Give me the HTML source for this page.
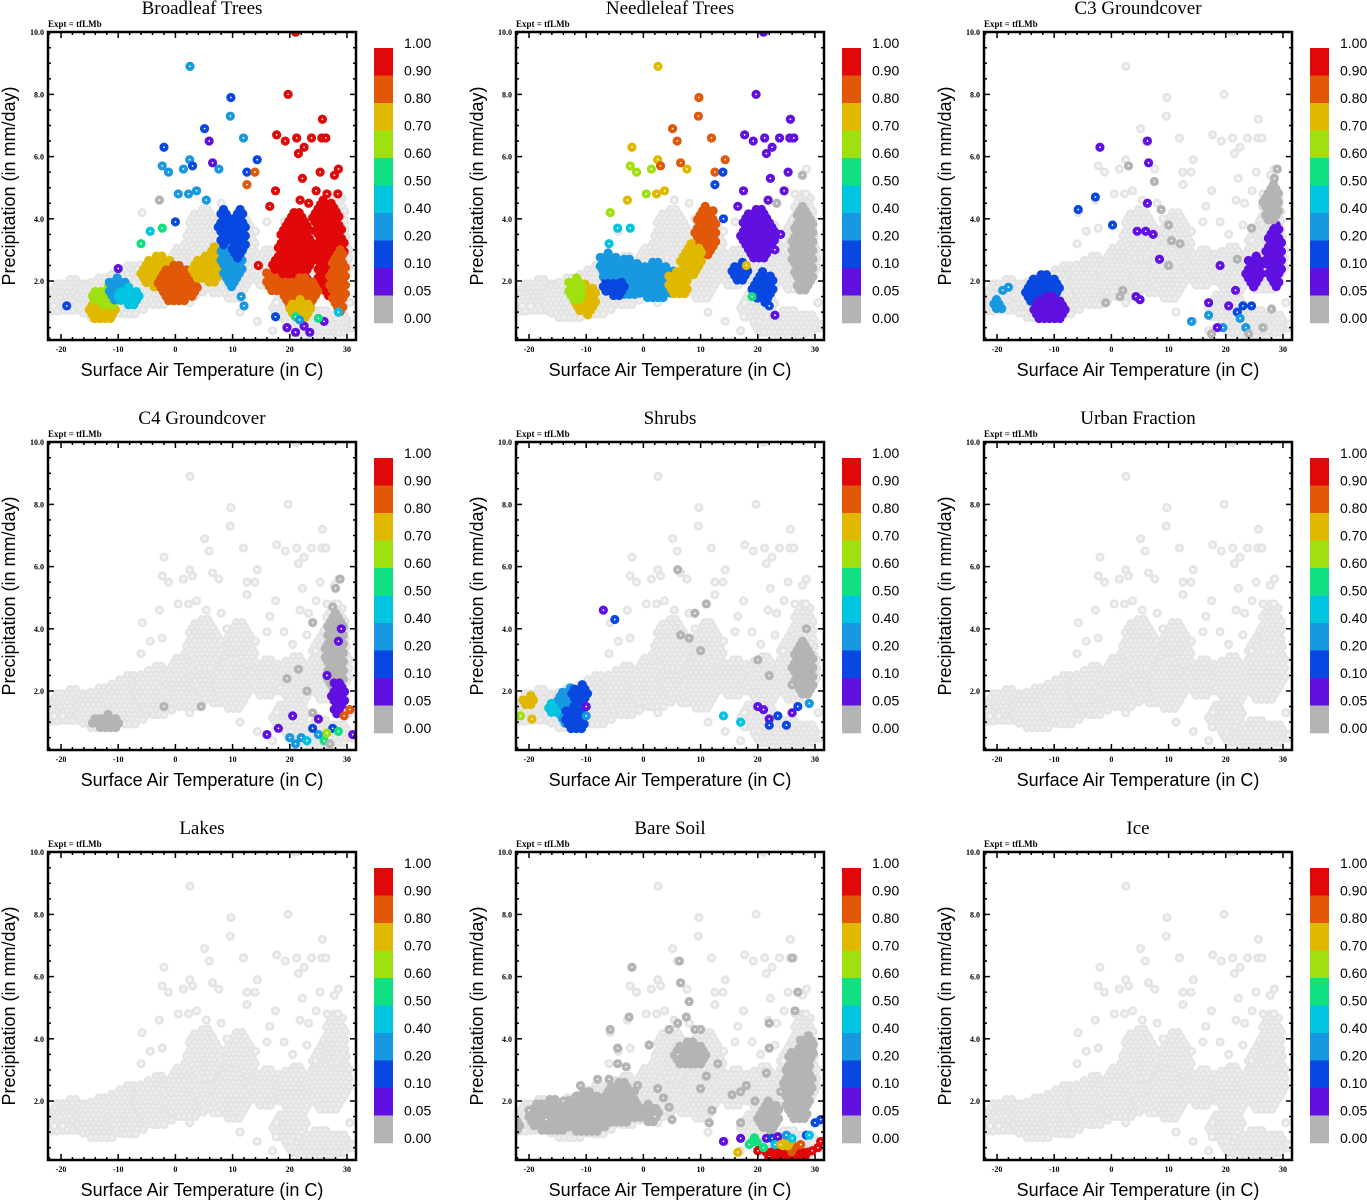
<!DOCTYPE html>
<html><head><meta charset="utf-8"><title>Land cover fractions vs climate</title>
<style>
html,body{margin:0;padding:0;background:#fff;}
svg{display:block;}
.ttl{font-family:"Liberation Serif",serif;font-size:19px;}
.expt{font-family:"Liberation Serif",serif;font-size:9px;font-weight:bold;}
.tick{font-family:"Liberation Serif",serif;font-size:8px;font-weight:bold;}
.axt{font-family:"Liberation Sans",sans-serif;font-size:18px;}
.cbl{font-family:"Liberation Sans",sans-serif;font-size:14px;}
</style></head>
<body>
<svg id="fig" width="1367" height="1200" viewBox="0 0 1367 1200" xmlns="http://www.w3.org/2000/svg"></svg>
<script>
// ---- data ----
const panelTitles = ["Broadleaf Trees","Needleleaf Trees","C3 Groundcover","C4 Groundcover","Shrubs","Urban Fraction","Lakes","Bare Soil","Ice"];
const cbLabels = ["1.00","0.90","0.80","0.70","0.60","0.50","0.40","0.20","0.10","0.05","0.00"];
const cbColors = ["#e00808","#e05808","#e0b800","#a0e010","#10e080","#00c4e0","#1898e0","#0848e0","#6010e0","#b4b4b4"];
const xTicks = [-20,-10,0,10,20,30];
const yTicks = [2,4,6,8,10];
// shared background cloud: dense clumps [t, p, halfWidthT, halfHeightP]
const baseClumps = [[-18,1.5,4,0.55],[-13,1.4,4,0.7],[-8,1.7,4,0.8],[-3,2.0,4,0.8],[2,2.3,4,0.9],[7,2.6,4,1.0],[11,3.0,3,1.2],[10,2.2,3,0.8],[16,2.4,3,0.6],[21,2.3,3,0.8],[27,2.8,3.5,1.2],[28,4.0,2,0.8],[25,0.6,6,0.45],[5,3.5,3,0.8],[20,1.2,3,0.5],[-21,1.3,1.5,0.3]];
// shared background scattered points [t, p]
const basePts = [[2.55,8.9],[9.7,7.9],[9.6,7.3],[19.7,8.0],[21,10],[5.1,6.9],[25.7,7.2],[-2,6.3],[5.9,6.5],[11.9,6.6],[17.7,6.7],[19.2,6.5],[21.2,6.6],[23.8,6.6],[25.6,6.6],[26.3,6.6],[22.5,6.3],[21.5,6.1],[14.3,5.9],[12.5,5.5],[13.9,5.5],[12.5,5.1],[2.5,5.9],[3,5.7],[1.4,5.6],[-2.3,5.7],[-1.2,5.5],[7.6,5.6],[6.5,5.8],[3.7,4.9],[2.3,4.8],[0.5,4.8],[-2.8,4.6],[-5.8,4.2],[17.5,4.9],[22.2,5.3],[24.6,4.9],[27.8,5.4],[28.5,5.6],[25.3,5.5],[21.8,4.6],[23.3,4.5],[26.5,4.8],[28.4,4.8],[16.5,4.4],[5.4,4.6],[31,0.6],[17,0.4],[14.3,0.7],[11.3,1.0],[17.6,0.85],[17.7,1.3],[2.5,1.3],[-19.7,1.2],[-21.2,1.2],[-4.4,3.6],[-6,3.2],[-2.3,3.7],[8,4.5],[9,4.0],[14,3.6],[16,3.9],[19,3.9],[20.5,3.5],[23,3.8],[24.5,3.3],[30.5,1.3]];
// per-panel overlay clumps [t, p, halfWidthT, halfHeightP, colorIndex]
const broadleafClumps = [[-13,1.1,2.5,0.4,7],[-12,1.5,2.5,0.3,6],[-10,1.7,2,0.4,3],[-8,1.5,2,0.3,4],[-3,2.3,3,0.5,7],[0.5,1.9,3.5,0.6,8],[5,2.4,2.5,0.4,7],[6.5,2.5,1.5,0.6,7],[10,2.8,2,1.0,3],[11,3.5,1.5,0.8,2],[8.5,3.7,1,0.6,2],[21,3,3,1.2,9],[27,3,2.5,1.5,9],[26,4,2,0.6,9],[28.5,2,1.5,1,8],[22,1.6,3,0.5,8],[17.5,2.0,2,0.4,8],[19,2.5,2,0.3,9],[22,1.1,2,0.3,7]];
const broadleafPts = [[2.55,8.9,3],[9.7,7.9,2],[9.6,7.3,3],[19.7,8.0,9],[21,10,9],[5.1,6.9,2],[25.7,7.2,9],[-2,6.3,2],[5.9,6.5,1],[11.9,6.6,3],[17.7,6.7,9],[19.2,6.5,9],[21.2,6.6,9],[23.8,6.6,9],[25.6,6.6,9],[26.3,6.6,9],[22.5,6.3,9],[21.5,6.1,9],[14.3,5.9,2],[12.5,5.5,2],[13.9,5.5,8],[12.5,5.1,8],[2.5,5.9,3],[3,5.7,2],[1.4,5.6,3],[-2.3,5.7,3],[-1.2,5.5,3],[7.6,5.6,3],[6.5,5.8,1],[3.7,4.9,3],[2.3,4.8,3],[0.5,4.8,3],[-2.8,4.6,0],[17.5,4.9,9],[22.2,5.3,9],[24.6,4.9,9],[27.8,5.4,9],[28.5,5.6,9],[25.3,5.5,9],[21.8,4.6,9],[23.3,4.5,9],[26.5,4.8,9],[28.4,4.8,9],[16.5,4.4,9],[5.4,4.6,3],[19.5,0.5,1],[21,0.35,1],[22.5,0.55,1],[23.5,0.35,1],[26,0.7,1],[17.5,0.85,2],[21,0.85,5],[25,0.8,5],[28.5,1.0,4],[21.7,0.75,3],[-4.4,3.6,4],[-6,3.2,5],[-2.3,3.7,5],[0,3.9,2],[14.5,2.5,9],[12,1.2,3],[11.5,1.5,3],[-10,2.4,1],[-19,1.2,2]];
const needleClumps = [[-10,1.4,2,0.5,7],[-12,1.7,1.5,0.4,6],[-3,2.1,4,0.6,3],[2,2.0,4,0.6,3],[-5,1.8,2,0.3,2],[6,1.9,2,0.4,7],[11,3.6,2,0.8,8],[8.5,2.7,2,0.5,7],[-6,2.5,2,0.4,3],[20,3.5,3,0.8,1],[21,1.8,2,0.5,2],[17,2.3,1.5,0.3,2],[28,3,2,1.4,0]];
const needlePts = [[2.55,8.9,7],[9.7,7.9,8],[9.6,7.3,8],[19.7,8.0,1],[21,10,1],[5.1,6.9,8],[25.7,7.2,1],[-2,6.3,7],[5.9,6.5,8],[11.9,6.6,8],[17.7,6.7,1],[19.2,6.5,1],[21.2,6.6,1],[23.8,6.6,1],[25.6,6.6,1],[26.3,6.6,1],[22.5,6.3,1],[21.5,6.1,1],[14.3,5.9,8],[12.5,5.5,8],[13.9,5.5,2],[12.5,5.1,2],[2.5,5.9,7],[3,5.7,8],[1.4,5.6,6],[-2.3,5.7,6],[-1.2,5.5,6],[7.6,5.6,7],[6.5,5.8,8],[3.7,4.9,7],[2.3,4.8,7],[0.5,4.8,6],[-2.8,4.6,7],[-5.8,4.2,6],[17.5,4.9,1],[22.2,5.3,1],[24.6,4.9,1],[27.8,5.4,0],[25.3,5.5,1],[21.8,4.6,1],[23.3,4.5,0],[16.5,4.4,1],[14,4.0,2],[24,3.5,1],[23,3.0,1],[22,1.2,2],[23,0.9,1],[19,1.5,5],[18,2.5,7],[-4.5,3.7,4],[-6,3.2,4],[-2.3,3.7,4]];
const c3Clumps = [[-12,1.7,3,0.5,2],[-11,1.1,3,0.4,1],[28.5,2.8,1.5,1.0,1],[25,2.3,1.5,0.5,1],[28,4.5,1.5,0.6,0],[-20,1.2,1,0.2,3]];
const c3Pts = [[-2,6.3,1],[6.3,6.5,1],[6.5,5.8,1],[6.3,4.5,1],[-2.8,4.7,2],[-5.8,4.3,2],[0.2,3.8,2],[4.5,3.6,1],[6,3.6,1],[7.3,3.5,1],[8.4,2.7,1],[4.3,1.5,1],[5,1.4,1],[19,2.5,1],[17,1.3,1],[20.5,1.2,1],[21.7,1.7,1],[22,1.0,2],[23,1.2,2],[24.5,1.2,2],[22.5,0.8,3],[14,0.7,3],[17,0.9,3],[19.5,0.5,3],[18.5,0.5,1],[23.5,0.5,3],[3,5.7,0],[7.5,5.2,0],[8.7,4.3,0],[10,3.8,0],[10.5,3.3,0],[12,3.2,0],[10,2.5,0],[-1,1.3,0],[1.5,1.5,0],[2,1.7,0],[22,2.7,0],[24.5,3.7,0],[28,1.1,0],[26.5,0.5,0],[24,0.3,0],[17.5,0.3,0],[29,5.6,0],[28.5,5.3,0],[-18,1.8,3],[-19,1.7,3]];
const c4Clumps = [[-12,1.0,2.5,0.25,0],[28,3.2,1.8,1.3,0],[28.5,1.8,1.2,0.6,1]];
const c4Pts = [[-2,1.5,0],[4.5,1.5,0],[28.8,5.6,0],[28,5.3,0],[27.5,4.7,0],[29,4.0,1],[28.5,3.6,1],[26.5,2.5,1],[23,2.0,0],[24,1.3,0],[25,1.1,1],[20.5,1.2,1],[16,0.6,1],[18,0.8,1],[20,0.5,3],[22,0.5,3],[23,0.4,4],[25,0.6,3],[26,0.4,5],[27.5,0.8,2],[28.5,0.7,5],[26.5,0.65,6],[24,0.8,2],[21,0.3,3],[30.5,1.4,8],[29.5,1.2,8],[27,0.3,0],[31,0.6,1],[19.5,2.4,0],[21.5,2.7,0],[24,4.2,0]];
const shrubClumps = [[-13,1.5,2.5,0.6,3],[-12,1.1,2,0.4,2],[-11,1.9,1.5,0.3,2],[-16,1.4,1,0.2,4],[-20,1.7,1.5,0.15,7],[28,2.7,2,0.9,0]];
const shrubPts = [[-7,4.6,1],[-5,4.3,2],[6,5.9,0],[9,4.5,0],[6.5,3.8,0],[8,3.7,0],[10,3.3,0],[11,4.8,0],[20,3.0,0],[22,2.5,0],[26,2.2,0],[28.5,4.0,0],[14,1.2,4],[17,1.0,4],[20,1.5,1],[22,1.1,1],[21,1.4,1],[23.5,1.2,2],[25,0.9,2],[26,1.3,1],[27,1.5,2],[29,1.6,3],[22,0.9,2],[-21.5,1.2,6],[-19.5,1.1,7],[-10,1.2,3],[-10,1.5,1]];
const bareClumps = [[-16,1.5,4,0.55,0],[-10,1.6,4,0.7,0],[-4,1.9,3,0.7,0],[1,1.6,2,0.3,0],[-22,1.2,1,0.15,0],[27,2.5,2.5,1.2,0],[22,1.5,2,0.5,0],[28.5,3.6,1.5,0.5,0],[8,3.5,3,0.4,0],[25,0.3,4,0.2,9],[26,0.5,1,0.15,8],[25,0.7,1.5,0.15,7],[19.5,0.7,1,0.12,5]];
const barePts = [[-2,6.3,0],[6.3,6.5,0],[6.5,5.8,0],[8,5.2,0],[7.5,4.7,0],[6,4.5,0],[-2.5,4.7,0],[-5.8,4.3,0],[-4.5,3.7,0],[4.5,4.3,0],[9,4.3,0],[10,4.3,0],[13,3.2,0],[11,2.8,0],[10,2.4,0],[12,1.7,0],[11.5,1.3,0],[6,3.5,0],[26,6.6,0],[27,5.5,0],[26.5,4.9,0],[22,4.5,0],[22,3.7,0],[17,2.3,0],[15.5,2.2,0],[18,2.5,0],[19.5,2.0,0],[21.5,2.9,0],[24,2.3,0],[17,1.3,0],[1,3.8,0],[2.5,2.4,0],[3.5,2.1,0],[4.5,1.8,0],[-20,1.7,0],[-17,1.4,0],[-14,2.0,0],[-11,2.5,0],[-8,2.7,0],[-6,2.7,0],[-4.5,3.2,0],[-3,3.1,0],[-1,2.5,0],[2,1.5,0],[5,1.4,0],[14,0.7,1],[17,0.8,1],[16.5,0.35,7],[21.5,0.8,1],[22.5,0.8,2],[23.5,0.85,1],[25,0.9,3],[26,0.8,4],[28.5,0.9,2],[29,0.9,4],[30,1.3,2],[31,1.4,2],[27.5,0.6,8],[30.5,0.5,9],[31,0.7,9],[29.5,0.4,9],[20,0.4,9],[22,0.2,9],[23,0.6,4],[24,0.6,7],[21,0.5,5],[18.5,0.6,5]];
const panelClumps = [broadleafClumps,needleClumps,c3Clumps,c4Clumps,shrubClumps,[],[],bareClumps,[]];
const panelPts = [broadleafPts,needlePts,c3Pts,c4Pts,shrubPts,[],[],barePts,[]];

// ---- drawing ----
const NS = "http://www.w3.org/2000/svg";
const svg = document.getElementById("fig");
const BASE = "#e4e4e4";
const X0 = 48, X1 = 356, Y0 = 32, Y1 = 340;
function xs(t){ return 61 + (t + 20) * 5.72; }
function ys(p){ return 281 - (p - 2) * 31.1; }
function el(tag, attrs, parent){
  const e = document.createElementNS(NS, tag);
  for (const k in attrs) e.setAttribute(k, attrs[k]);
  parent.appendChild(e);
  return e;
}
function txt(str, x, y, cls, anchor, parent){
  const t = el("text", {x:x, y:y, class:cls, "text-anchor":anchor||"start"}, parent);
  t.textContent = str;
  return t;
}
function slug(s){ return s.toLowerCase().replace(/[^a-z0-9]+/g,'-'); }
function drawClump(c, fill, stroke, parent, name){
  const cx = xs(c[0]), cy = ys(c[1]), rx = Math.max(c[2] * 5.72, 2), ry = Math.max(c[3] * 31.1, 2);
  const g = el("g", {}, parent);
  
  
  let row = 0, n = 0;
  for (let y = cy - ry; y <= cy + ry + 0.01; y += 4.4, row++) {
    const off = (row % 2) ? 2.6 : 0;
    for (let x = cx - rx + off; x <= cx + rx + 0.01; x += 5.2) {
      const dx = (x - cx) / rx, dy = (y - cy) / ry;
      if (dx * dx + dy * dy <= 1.05) {
        el("circle", {cx:x, cy:y, r:3.3, fill:fill, stroke:stroke, "stroke-width":2.6}, g);
        n++;
      }
    }
  }
  if (n === 0) el("circle", {cx:cx, cy:cy, r:3.3, fill:fill, stroke:stroke, "stroke-width":2.6}, g);
}

panelTitles.forEach((title, i) => {
  const ox = (i % 3) * 468, oy = Math.floor(i / 3) * 410;
  const g = el("g", {transform:"translate(" + ox + "," + oy + ")"}, svg);
  
  
  const clipId = "clip" + i;
  const cp = el("clipPath", {id:clipId}, g);
  el("rect", {x:X0, y:Y0, width:X1 - X0, height:Y1 - Y0}, cp);

  const tt = txt(title, 202, 14, "ttl", "middle", g);
  
  
  const ex = txt("Expt = tfLMb", 48, 27, "expt", "start", g);
  
  

  const plot = el("g", {"clip-path":"url(#" + clipId + ")"}, g);
  
  
  baseClumps.forEach(c => drawClump(c, "#eeeeee", BASE, plot, 'background-cluster'));
  basePts.forEach(p => {
    const c = el("circle", {cx:xs(p[0]), cy:ys(p[1]), r:3.3, fill:"#f4f4f4", stroke:BASE, "stroke-width":2.6}, plot);
    
    
  });
  panelClumps[i].forEach(c => {
    const col = cbColors[9 - c[4]];
    drawClump(c, col, col, plot, 'fraction-cluster');
  });
  panelPts[i].forEach(p => {
    const col = cbColors[9 - p[2]];
    const c = el("circle", {cx:xs(p[0]), cy:ys(p[1]), r:3.3, fill:col, stroke:col, "stroke-width":2.6}, plot);
    
    
    el("circle", {cx:xs(p[0]), cy:ys(p[1]), r:0.9, fill:"#fff"}, plot);
  });

  const tk = el("g", {stroke:"#000", "stroke-width":1.5}, g);
  
  
  for (let t = -22; t <= 30; t += 2) {
    const x = xs(t); if (x < X0 + 1 || x > X1 - 1) continue;
    const L = (t % 10 === 0) ? 6 : 3;
    el("line", {x1:x, y1:Y1, x2:x, y2:Y1 - L}, tk);
    el("line", {x1:x, y1:Y0, x2:x, y2:Y0 + L}, tk);
  }
  for (let p = 0.5; p <= 10; p += 0.5) {
    const y = ys(p); if (y > Y1 - 1 || y < Y0 + 1) continue;
    const L = (p % 2 === 0) ? 6 : 3;
    el("line", {x1:X0, y1:y, x2:X0 + L, y2:y}, tk);
    el("line", {x1:X1, y1:y, x2:X1 - L, y2:y}, tk);
  }
  const frame = el("rect", {x:X0, y:Y0, width:X1 - X0, height:Y1 - Y0, fill:"none", stroke:"#000", "stroke-width":2.5}, g);
  
  

  xTicks.forEach(t => {
    const l = txt(String(t), xs(t), 352, "tick", "middle", g);
    
    
  });
  yTicks.forEach(p => {
    const l = txt(p.toFixed(1), 44, ys(p) + 3, "tick", "end", g);
    
    
  });
  const xt = txt("Surface Air Temperature (in C)", 202, 376, "axt", "middle", g);
  
  
  const yt = txt("Precipitation (in mm/day)", 0, 0, "axt", "middle", g);
  yt.setAttribute("transform", "translate(15,186) rotate(-90)");
  
  

  const cb = el("g", {}, g);
  
  
  const segH = 27.5;
  cbColors.forEach((c, k) => {
    const r = el("rect", {x:374, y:48 + k * segH, width:19, height:segH + 0.3, fill:c}, cb);
    
    
  });
  cbLabels.forEach((s, k) => {
    const l = txt(s, 404, 48 + k * segH, "cbl", "start", cb);
    
    
  });
});
</script>
</body></html>
